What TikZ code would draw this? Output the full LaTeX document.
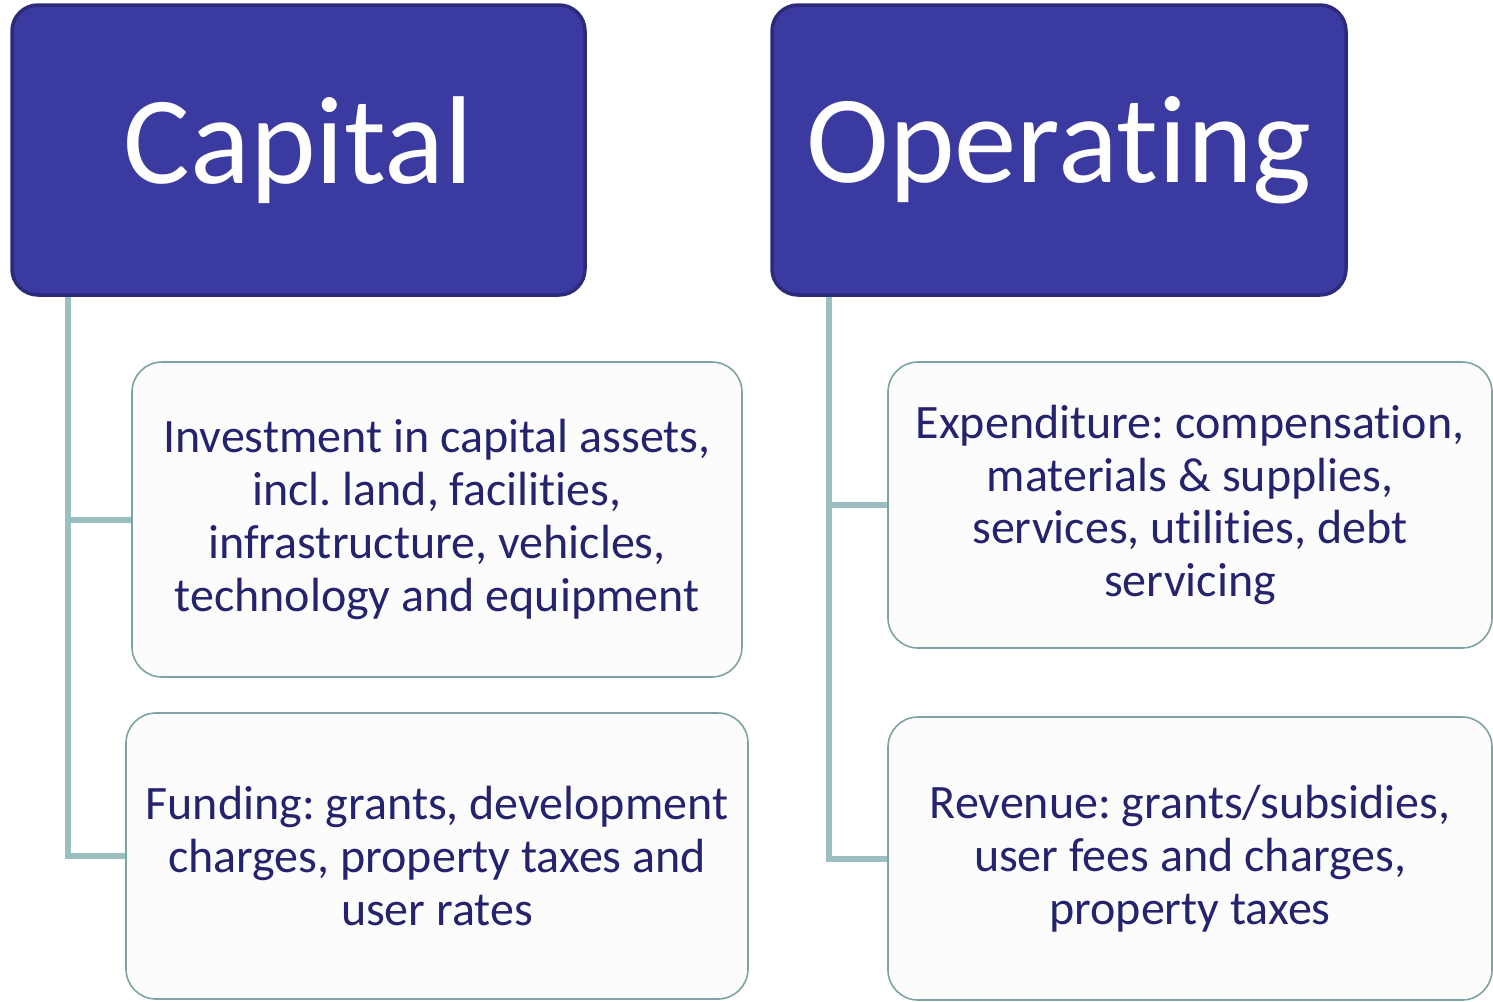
\documentclass[tikz,border=0pt]{standalone}
\usepackage{fontspec}
\setmainfont{Carlito}[Ligatures=NoCommon]
\frenchspacing
\usepackage{tikz}
\usetikzlibrary{positioning}
\definecolor{navyfill}{HTML}{3B3AA0}
\definecolor{navyedge}{HTML}{2C2A7A}
\definecolor{navyink}{HTML}{25236E}
\definecolor{branchteal}{HTML}{9BBFC0}
\definecolor{cardedge}{HTML}{7FA3A5}
\definecolor{cardfill}{HTML}{FCFCFC}
\tikzset{
  headbox/.style={draw=navyedge,fill=navyfill,line width=3.5pt,rounded corners=26pt,inner sep=0pt,text=white,font=\fontsize{125}{130}\selectfont},
  itembox/.style={draw=cardedge,fill=cardfill,line width=1.6pt,rounded corners=30pt,inner sep=0pt,align=center,text=navyink,font=\fontsize{48}{52.7}\selectfont},
  branch/.style={draw=branchteal,line width=6pt}
}

\begin{document}
\begin{tikzpicture}[x=1pt,y=1pt]
  \useasboundingbox (0,0) rectangle (1493,-1001);
  \fill[white] (0,0) rectangle (1493,-1001);

  % two headings
  \node[headbox,minimum width=573,minimum height=290] (cap) at (298.5,-150) {Capital};
  \node[headbox,minimum width=574,minimum height=290] (op) at (1059,-150) {Operating};

  % capital items
  \node[itembox,minimum width=610,minimum height=315] (capinv) at (437,-519.5)
    {Investment in capital assets,\\incl. land, facilities,\\infrastructure, vehicles,\\technology and equipment};
  \node[itembox,minimum width=622,minimum height=286] (capfund) at (437,-856)
    {Funding: grants, development\\charges, property taxes and\\user rates};

  % operating items
  \node[itembox,minimum width=604,minimum height=286] (opexp) at (1190,-505)
    {Expenditure: compensation,\\materials \& supplies,\\services, utilities, debt\\servicing};
  \node[itembox,minimum width=604,minimum height=283] (oprev) at (1190,-858.5)
    {Revenue: grants/subsidies,\\user fees and charges,\\property taxes};

  % branch lines
  \draw[branch] ([xshift=58]cap.south west) |- (capinv.west);
  \draw[branch] ([xshift=58]cap.south west) |- (capfund.west);
  \draw[branch] ([xshift=59]op.south west) |- (opexp.west);
  \draw[branch] ([xshift=59]op.south west) |- (oprev.west);
\end{tikzpicture}
\end{document}
